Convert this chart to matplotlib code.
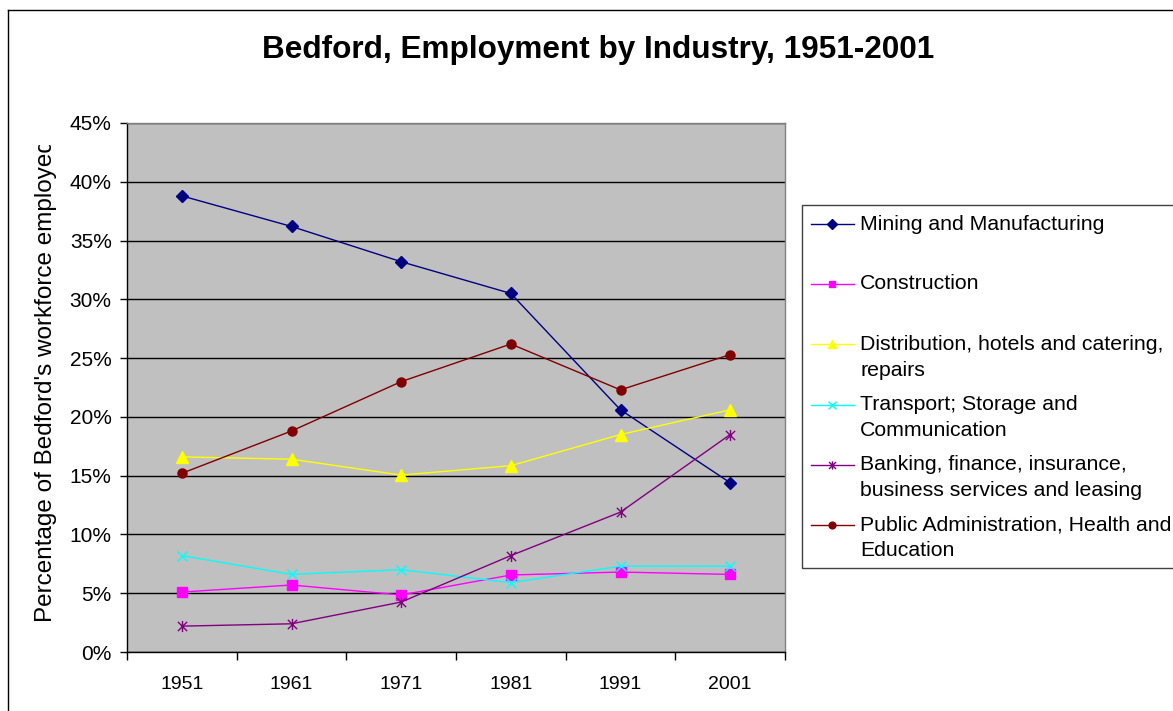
import matplotlib
matplotlib.use("Agg")
import matplotlib.pyplot as plt
from matplotlib.lines import Line2D
from matplotlib.path import Path
from matplotlib.patches import Rectangle
from matplotlib.ticker import FixedLocator, PercentFormatter

plt.rcParams['font.family'] = ['Liberation Sans', 'DejaVu Sans']

years = ["1951", "1961", "1971", "1981", "1991", "2001"]
series_names = [
    "Mining and Manufacturing",
    "Construction",
    "Distribution, hotels and catering,\nrepairs",
    "Transport; Storage and\nCommunication",
    "Banking, finance, insurance,\nbusiness services and leasing",
    "Public Administration, Health and\nEducation",
]
mining = [38.8, 36.2, 33.2, 30.5, 20.6, 14.4]
construction = [5.1, 5.7, 4.85, 6.55, 6.8, 6.6]
distribution = [16.6, 16.4, 15.05, 15.85, 18.5, 20.6]
transport = [8.2, 6.6, 7.0, 5.9, 7.3, 7.3]
banking = [2.2, 2.4, 4.25, 8.2, 11.9, 18.5]
public_admin = [15.2, 18.8, 23.0, 26.2, 22.3, 25.3]

star = Path([(-1, -1), (1, 1), (-1, 1), (1, -1), (0, -1.2), (0, 1.2)],
            [Path.MOVETO, Path.LINETO, Path.MOVETO, Path.LINETO, Path.MOVETO, Path.LINETO])

styles = [
    dict(color="#000080", marker="D", ms=6.5, mfc="#000080", mec="#000080"),
    dict(color="#FF00FF", marker="s", ms=6.5, mfc="#FF00FF", mec="#FF00FF"),
    dict(color="#FFFF00", marker="^", ms=8, mfc="#FFFF00", mec="#FFFF00"),
    dict(color="#00FFFF", marker="x", ms=7, mfc="none", mec="#00FFFF", mew=1.0),
    dict(color="#800080", marker=star, ms=8, mfc="none", mec="#800080", mew=1.0),
    dict(color="#800000", marker="o", ms=6.5, mfc="#800000", mec="#800000"),
]
data = [mining, construction, distribution, transport, banking, public_admin]

W, H = 1173, 711
fig = plt.figure(figsize=(W / 100, H / 100), dpi=100)
fig.patch.set_facecolor("white")

# outer chart frame (clipped by image on right and bottom)
fig.add_artist(Line2D([8 / W, 8 / W], [0, 1 - 10 / H], transform=fig.transFigure, color="black", lw=1.0))
fig.add_artist(Line2D([8 / W, 1], [1 - 10 / H, 1 - 10 / H], transform=fig.transFigure, color="black", lw=1.0))

l, r, t, b = 127, 785, 123, 652
ax = fig.add_axes([l / W, 1 - b / H, (r - l) / W, (b - t) / H])
ax.set_facecolor("#C0C0C0")

x = list(range(len(years)))
for vals, st in zip(data, styles):
    ax.plot(x, vals, lw=1.0, zorder=3, clip_on=False, **st)

ax.set_xlim(-0.5, len(years) - 0.5)
ax.set_ylim(0, 45)
ax.yaxis.set_major_locator(FixedLocator([0, 5, 10, 15, 20, 25, 30, 35, 40, 45]))
ax.yaxis.set_major_formatter(PercentFormatter(decimals=0))
ax.grid(axis="y", color="black", lw=1.0)
ax.set_axisbelow(True)

ax.set_xticks(x)
ax.set_xticklabels(years)
ax.set_xticks([i - 0.5 for i in range(len(years) + 1)], minor=True)
ax.tick_params(axis="x", which="major", length=0, pad=17, labelsize=14)
ax.tick_params(axis="x", which="minor", length=6, width=1, color="black")
ax.tick_params(axis="y", length=5, width=1, color="black", pad=6, labelsize=15)

for s in ["top", "right"]:
    ax.spines[s].set_color("#808080")
    ax.spines[s].set_linewidth(1.0)
for s in ["left", "bottom"]:
    ax.spines[s].set_color("black")
    ax.spines[s].set_linewidth(1.0)

fig.text(598 / W, 1 - 50 / H, "Bedford, Employment by Industry, 1951-2001",
         ha="center", va="center", fontsize=22.7, fontweight="bold")

yl = fig.text(46 / W, 1 - 381 / H, "Percentage of Bedford's workforce employed",
              ha="center", va="center", rotation=90, fontsize=17.5)
clip = Rectangle((0, 0), 1, 1 - 145 / H, transform=fig.transFigure)
yl.set_clip_path(clip)

# legend box
leg_box = Rectangle((802 / W, 1 - 568 / H), 1.0, (568 - 205) / H, transform=fig.transFigure,
                    facecolor="white", edgecolor="#404040", lw=1.0)
fig.add_artist(leg_box)
rows = [224, 284, 357, 418, 478, 538]
for name, st, yy in zip(series_names, styles, rows):
    lines = name.split("\n")
    y_first = yy if len(lines) == 1 else yy - 13
    fy = 1 - y_first / H
    fig.add_artist(Line2D([811 / W, 854 / W], [fy, fy], transform=fig.transFigure,
                          lw=1.0, color=st["color"], marker="None"))
    mst = {k: v for k, v in st.items() if k != "ms"}
    fig.add_artist(Line2D([832 / W], [fy], transform=fig.transFigure, ls="None",
                          ms=st["ms"] * 0.75, **mst))
    for i, ln in enumerate(lines):
        fig.text(860 / W, 1 - (y_first + 26 * i) / H, ln, ha="left", va="center",
                 fontsize=15.3)

fig.savefig("out.png", dpi=100)
